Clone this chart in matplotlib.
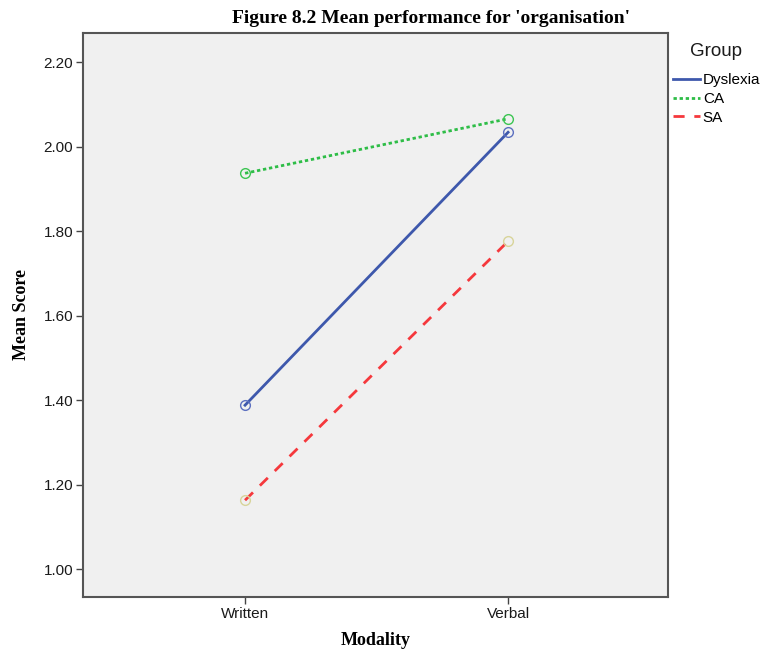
import numpy as np
import matplotlib.pyplot as plt

# data
modality = ['Written', 'Verbal']
groups = ['Dyslexia', 'CA', 'SA']
dyslexia = [1.388, 2.034]
ca = [1.937, 2.066]
sa = [1.163, 1.776]
yticks = [1.0, 1.2, 1.4, 1.6, 1.8, 2.0, 2.2]

fig = plt.figure(figsize=(7.63, 6.54), dpi=100)
ax = fig.add_axes([0.1088, 0.0872, 0.7667, 0.8623])
ax.set_facecolor('#f0f0f0')

x = np.arange(len(modality))
ax.plot(x, dyslexia, color='#3e58ac', lw=2, ls='-', label=groups[0],
        marker='o', ms=7, mfc='none', mec='#5c6fc0', mew=1)
ax.plot(x, ca, color='#2ebd47', lw=2, ls=(0, (1.2, 1.0)), label=groups[1],
        marker='o', ms=7, mfc='none', mec='#3cc552', mew=1)
ax.plot(x, sa, color='#f5383c', lw=2, ls=(0, (4, 3.5)), label=groups[2],
        marker='o', ms=7, mfc='none', mec='#d8d49a', mew=1)

ax.set_xlim(-0.616, 1.608)
ax.set_ylim(0.934, 2.269)
ax.set_xticks(x)
ax.set_xticklabels(modality)
ax.set_yticks(yticks)
ax.set_yticklabels(['%.2f' % v for v in yticks])
ax.tick_params(direction='out', length=5, width=1, color='#444444',
               labelsize=11, labelcolor='#1a1a1a', pad=2)
for lab in ax.get_xticklabels() + ax.get_yticklabels():
    lab.set_family('Liberation Sans')
for s in ax.spines.values():
    s.set_color('#555555')
    s.set_linewidth(1.5)

ax.set_xlabel('Modality', family='Liberation Serif', fontweight='bold', fontsize=13, labelpad=8)
ax.set_ylabel('Mean Score', family='Liberation Serif', fontweight='bold', fontsize=13, labelpad=10)

fig.text(0.565, 0.972, "Figure 8.2 Mean performance for 'organisation'",
         family='Liberation Serif', fontweight='bold', fontsize=14, ha='center', va='center')

# legend title drawn separately to get the wider gap seen in the reference
fig.text(0.938, 0.921, 'Group', family='Liberation Sans', fontsize=13.5,
         ha='center', va='center', color='#1a1a1a')
leg = fig.legend(loc='upper left', bbox_to_anchor=(0.882, 0.888), frameon=False,
                 handlelength=1.75, handletextpad=0.2, borderaxespad=0,
                 borderpad=0, labelspacing=0.31,
                 prop={'family': 'Liberation Sans', 'size': 11})
for h in leg.legend_handles:
    h.set_marker('')

fig.savefig('out.png', dpi=100)
